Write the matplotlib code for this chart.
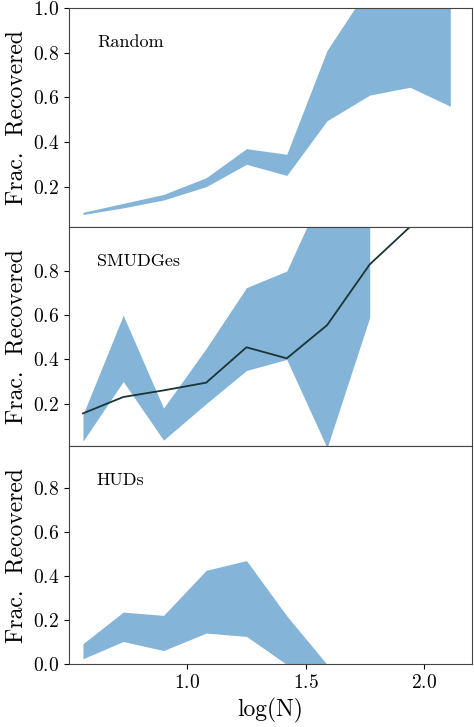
import numpy as np
import matplotlib
matplotlib.use('Agg')
import matplotlib.pyplot as plt

plt.rcParams['font.family'] = 'serif'
plt.rcParams['font.serif'] = ['cmr10', 'DejaVu Serif']
plt.rcParams['mathtext.fontset'] = 'cm'
plt.rcParams['axes.formatter.use_mathtext'] = True

logn = np.array([0.56, 0.73, 0.90, 1.08, 1.25, 1.42, 1.59, 1.77, 1.94, 2.11])

# Random
rand_lo = [0.075, 0.105, 0.14, 0.20, 0.30, 0.25, 0.495, 0.61, 0.645, 0.56]
rand_hi = [0.085, 0.125, 0.165, 0.24, 0.37, 0.345, 0.81, 1.1, 1.2, 1.2]

# SMUDGes (band stops at 1.77)
smu_lo = [0.03, 0.30, 0.035, 0.20, 0.35, 0.40, 0.0, 0.59]
smu_hi = [0.15, 0.60, 0.18, 0.45, 0.725, 0.80, 1.2, 1.2]
smu_med = [0.156, 0.23, 0.26, 0.295, 0.455, 0.405, 0.555, 0.83, 1.0]

# HUDs (band stops at 1.59)
hud_lo = [0.026, 0.104, 0.063, 0.142, 0.127, 0.0, 0.0]
hud_hi = [0.094, 0.237, 0.222, 0.426, 0.47, 0.22, 0.0]

band = '#85b4d9'
fig, axes = plt.subplots(3, 1, figsize=(4.74, 7.27), dpi=100, sharex=True)
fig.subplots_adjust(left=0.145, right=0.995, top=0.989, bottom=0.086, hspace=0)

ax = axes[0]
ax.fill_between(logn, rand_lo, rand_hi, color=band, lw=0)
ax.set_ylim(0.02, 1.0)
ax.set_yticks([0.2, 0.4, 0.6, 0.8, 1.0])
ax.text(0.07, 0.82, 'Random', transform=ax.transAxes, fontsize=13)

ax = axes[1]
n = len(smu_lo)
ax.fill_between(logn[:n], smu_lo, smu_hi, color=band, lw=0)
ax.plot(logn[:len(smu_med)], smu_med, color='#1b3535', lw=1.3)
ax.set_ylim(0.01, 1.0)
ax.set_yticks([0.2, 0.4, 0.6, 0.8])
ax.text(0.07, 0.82, 'SMUDGes', transform=ax.transAxes, fontsize=13)

ax = axes[2]
n = len(hud_lo)
ax.fill_between(logn[:n], hud_lo, hud_hi, color=band, lw=0)
ax.set_ylim(0.0, 0.99)
ax.set_yticks([0.0, 0.2, 0.4, 0.6, 0.8])
ax.text(0.07, 0.82, 'HUDs', transform=ax.transAxes, fontsize=13)

for ax in axes:
    ax.set_xlim(0.5, 2.2)
    ax.set_ylabel('Frac.  Recovered', fontsize=17)
    ax.tick_params(labelsize=14)
    for s in ax.spines.values():
        s.set_color('#444444')
axes[2].set_xticks([1.0, 1.5, 2.0])
axes[2].set_xlabel('log(N)', fontsize=17)
fig.align_ylabels(axes)

fig.savefig('out.png')
